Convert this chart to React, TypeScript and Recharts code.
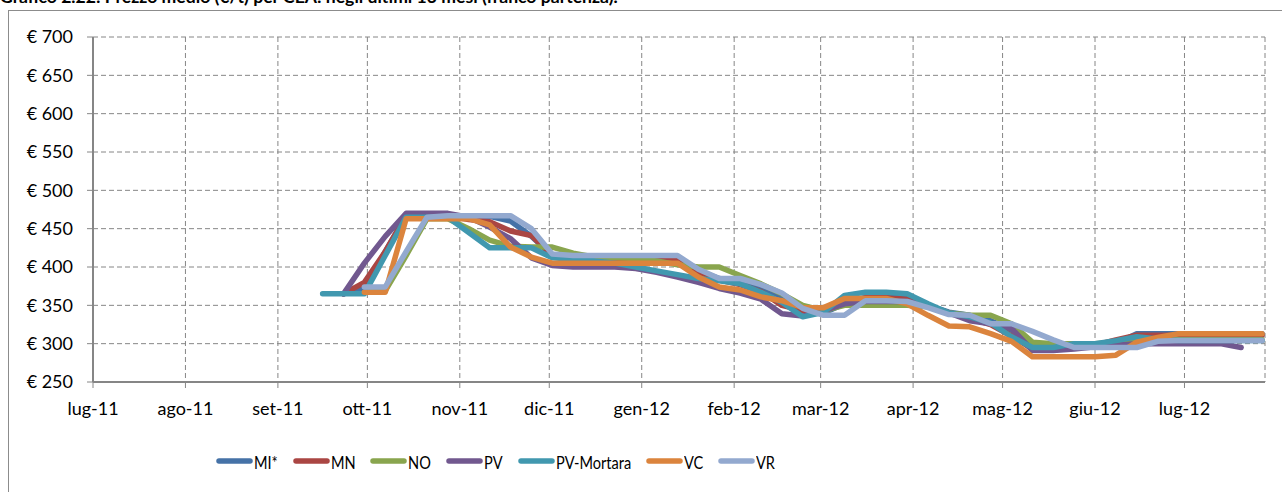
import { CartesianGrid, Legend, Line, LineChart, XAxis, YAxis } from "recharts";

const TITLE = "Grafico 2.22: Prezzo medio (€/t) per CEA: negli ultimi 13 mesi (franco partenza).";

const weekDates = [
  "2011-09-16", "2011-09-23", "2011-09-30", "2011-10-07", "2011-10-14", "2011-10-21",
  "2011-10-28", "2011-11-04", "2011-11-11", "2011-11-18", "2011-11-25", "2011-12-02",
  "2011-12-09", "2011-12-16", "2011-12-23", "2011-12-30", "2012-01-06", "2012-01-13",
  "2012-01-20", "2012-01-27", "2012-02-03", "2012-02-10", "2012-02-17", "2012-02-24",
  "2012-03-02", "2012-03-09", "2012-03-16", "2012-03-23", "2012-03-30", "2012-04-06",
  "2012-04-13", "2012-04-20", "2012-04-27", "2012-05-04", "2012-05-11", "2012-05-18",
  "2012-05-25", "2012-06-01", "2012-06-08", "2012-06-15", "2012-06-22", "2012-06-29",
  "2012-07-06", "2012-07-13", "2012-07-20", "2012-07-27",
];

const monthStarts = [
  "2011-07-01", "2011-08-01", "2011-09-01", "2011-10-01", "2011-11-01", "2011-12-01",
  "2012-01-01", "2012-02-01", "2012-03-01", "2012-04-01", "2012-05-01", "2012-06-01",
  "2012-07-01",
];
const monthLabels = [
  "lug-11", "ago-11", "set-11", "ott-11", "nov-11", "dic-11",
  "gen-12", "feb-12", "mar-12", "apr-12", "mag-12", "giu-12", "lug-12",
];
const axisEnd = "2012-07-28";
const yTicks = [250, 300, 350, 400, 450, 500, 550, 600, 650, 700];

// €/t, one value per week (null = no quote yet)
const MI = [null, 365, 372, 420, 467, 467, 467, 467, 466, 460, 440, 415, 412, 412, 412, 412, 412, 410, 395, 385, 380, 372, 362, 345, 340, 352, 360, 360, 360, 350, 341, 337, 330, 318, 300, 298, 298, 298, 300, 313, 313, 313, 313, 313, 313, 313];
const MN = [null, 365, 380, 420, 467, 467, 467, 462, 459, 447, 441, 415, 413, 412, 411, 410, 409, 408, 392, 383, 377, 368, 350, 343, 345, 355, 360, 360, 358, 350, 340, 333, 325, 310, 293, 293, 296, 298, 305, 311, 311, 311, 311, 311, 311, 311];
const NO = [null, null, 367, 369, 415, 463, 463, 450, 435, 427, 426, 426, 418, 413, 412, 411, 408, 403, 400, 400, 389, 378, 365, 350, 343, 350, 350, 350, 350, 348, 340, 337, 337, 326, 302, 300, 300, 300, 302, 305, 305, 305, 305, 305, 305, 305];
const PV = [null, 365, 405, 440, 470, 470, 470, 465, 452, 437, 412, 402, 400, 400, 400, 398, 393, 387, 380, 372, 366, 358, 339, 336, 343, 352, 355, 355, 355, 350, 340, 330, 326, 320, 291, 291, 293, 296, 298, 300, 300, 300, 300, 300, 295, null];
const PV_MORTARA = [365, 365, 365, 415, 465, 465, 465, 445, 425, 425, 425, 412, 410, 408, 405, 400, 395, 390, 385, 382, 378, 367, 354, 335, 341, 363, 367, 367, 365, 352, 340, 335, 327, 309, 295, 295, 300, 300, 304, 309, 306, 304, 304, 304, 304, 304];
const VC = [null, null, 367, 367, 463, 463, 463, 463, 455, 426, 413, 405, 405, 405, 405, 405, 405, 405, 387, 374, 370, 361, 356, 347, 347, 359, 359, 359, 352, 337, 323, 322, 313, 303, 283, 283, 283, 283, 285, 302, 308, 313, 313, 313, 313, 313];
const VR = [null, null, 374, 374, 420, 465, 467, 467, 467, 467, 450, 417, 415, 415, 415, 415, 415, 415, 397, 385, 385, 377, 366, 346, 337, 337, 356, 356, 355, 347, 338, 337, 326, 326, 316, 305, 295, 295, 295, 295, 303, 304, 304, 304, 304, 304];

const SERIES = [
  { key: "MI*", values: MI, color: "#4572A7" },
  { key: "MN", values: MN, color: "#AA4643" },
  { key: "NO", values: NO, color: "#89A54E" },
  { key: "PV", values: PV, color: "#71588F" },
  { key: "PV-Mortara", values: PV_MORTARA, color: "#4198AF" },
  { key: "VC", values: VC, color: "#DB843D" },
  { key: "VR", values: VR, color: "#93A9CF" },
];

const toTime = (s: string) => Date.parse(s + "T00:00:00Z");

const data = weekDates.map((d, i) => {
  const row: Record<string, number | null> = { t: toTime(d) };
  SERIES.forEach((s) => {
    row[s.key] = s.values[i];
  });
  return row;
});

const monthTicks = monthStarts.map(toTime);
const FONT = "Lato, 'Open Sans', sans-serif";
const GRID = "#868686";
const LEGEND_SQUEEZE = 0.81;

const measureCtx = document.createElement("canvas").getContext("2d");
function textWidth(text: string, size: number) {
  if (!measureCtx) return text.length * size * 0.55;
  measureCtx.font = `${size}px Lato`;
  return measureCtx.measureText(text).width;
}

// legend text is squeezed narrow in the original (stretched Excel chart)
function LegendRow() {
  return (
    <div style={{ display: "flex", alignItems: "center", fontFamily: FONT, fontSize: 18, color: "#000" }}>
      {SERIES.map((s) => (
        <div key={s.key} style={{ display: "flex", alignItems: "center", marginRight: 15 }}>
          <svg width={37} height={8}>
            <line x1={3} y1={4} x2={34} y2={4} stroke={s.color} strokeWidth={5.5} strokeLinecap="round" />
          </svg>
          <div style={{ marginLeft: 1, width: textWidth(s.key, 18) * LEGEND_SQUEEZE, height: 20 }}>
            <span
              style={{
                lineHeight: "20px",
                display: "inline-block",
                whiteSpace: "nowrap",
                transform: `scaleX(${LEGEND_SQUEEZE})`,
                transformOrigin: "left center",
              }}
            >
              {s.key}
            </span>
          </div>
        </div>
      ))}
    </div>
  );
}

export default function App() {
  return (
    <div style={{ position: "relative", width: 1282, height: 492, overflow: "hidden", background: "#fff" }}>
      <style>{"body{margin:0}"}</style>
      <div
        style={{
          position: "absolute",
          left: 0,
          top: -12,
          fontFamily: FONT,
          fontWeight: 700,
          fontSize: 17.6,
          lineHeight: "18px",
          whiteSpace: "nowrap",
          color: "#000",
        }}
      >
        {TITLE}
      </div>
      <div
        style={{
          position: "absolute",
          left: 8,
          top: 10,
          width: 1290,
          height: 520,
          border: "1px solid #8c8c8c",
        }}
      />
      <div style={{ position: "absolute", left: 0, top: 0 }}>
        <LineChart width={1282} height={492} data={data} margin={{ top: 37, right: 17, bottom: 70, left: 0 }}>
          <CartesianGrid stroke={GRID} strokeDasharray="5 3" horizontal vertical />
          <XAxis
            dataKey="t"
            type="number"
            scale="linear"
            domain={[toTime(monthStarts[0]), toTime(axisEnd)]}
            ticks={monthTicks}
            interval={0}
            height={40}
            tickFormatter={(v: number) => monthLabels[monthTicks.indexOf(v)] ?? ""}
            tick={{ fontFamily: FONT, fontSize: 18, fill: "#000" }}
            tickSize={6}
            tickMargin={14}
            axisLine={{ stroke: GRID, strokeWidth: 2 }}
            tickLine={{ stroke: GRID, strokeWidth: 1 }}
          />
          <YAxis
            type="number"
            domain={[250, 700]}
            ticks={yTicks}
            interval={0}
            width={93}
            tickFormatter={(v: number) => `€ ${v}`}
            tick={{ fontFamily: FONT, fontSize: 18, fill: "#000" }}
            tickSize={6}
            tickMargin={14}
            axisLine={{ stroke: GRID, strokeWidth: 2 }}
            tickLine={{ stroke: GRID, strokeWidth: 1 }}
          />
          <Legend
            layout="horizontal"
            verticalAlign="middle"
            align="center"
            content={() => <LegendRow />}
            wrapperStyle={{ left: 216, top: 451, width: "auto", height: 24 }}
          />
          {SERIES.map((s) => (
            <Line
              key={s.key}
              type="linear"
              dataKey={s.key}
              name={s.key}
              stroke={s.color}
              strokeWidth={5.5}
              strokeLinecap="round"
              strokeLinejoin="round"
              dot={false}
              activeDot={false}
              connectNulls={false}
              isAnimationActive={false}
            />
          ))}
        </LineChart>
      </div>
    </div>
  );
}
